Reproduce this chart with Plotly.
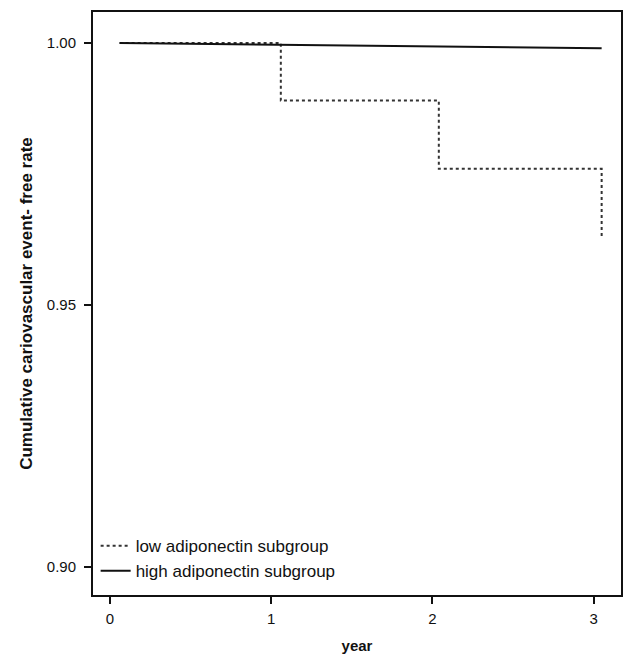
import plotly.graph_objects as go

# Data
years_low = [0.06, 1.06, 1.06, 2.04, 2.04, 3.05, 3.05]
rate_low = [1.000, 1.000, 0.989, 0.989, 0.976, 0.976, 0.963]
years_high = [0.06, 3.05]
rate_high = [1.000, 0.999]
x_ticks = [0, 1, 2, 3]
y_ticks = [0.90, 0.95, 1.00]
y_tick_labels = ["0.90", "0.95", "1.00"]

fig = go.Figure()
fig.add_trace(go.Scatter(x=years_low, y=rate_low, mode="lines",
                         name="low adiponectin subgroup",
                         line=dict(color="#333333", width=2, dash="dot")))
fig.add_trace(go.Scatter(x=years_high, y=rate_high, mode="lines",
                         name="high adiponectin subgroup",
                         line=dict(color="#111111", width=2)))

font_family = "Liberation Sans, Arial, sans-serif"
fig.update_layout(
    width=627, height=656,
    margin=dict(l=93, r=4, t=12, b=58),
    paper_bgcolor="white", plot_bgcolor="white",
    font=dict(family=font_family, size=15, color="#111111"),
    showlegend=True,
    legend=dict(x=0.005, y=0.01, xanchor="left", yanchor="bottom",
                bgcolor="rgba(0,0,0,0)", font=dict(size=17),
                tracegroupgap=0, itemwidth=30),
    xaxis=dict(range=[-0.105, 3.17], tickvals=x_ticks, ticks="outside",
               ticklen=7, tickwidth=1.5, tickcolor="#111111",
               showline=True, linecolor="#111111", linewidth=2, mirror=True,
               showgrid=False, zeroline=False, ticklabelstandoff=2,
               title=dict(text="<b>year</b>", font=dict(size=15), standoff=14)),
    yaxis=dict(range=[0.8947, 1.0059], tickvals=y_ticks, ticktext=y_tick_labels,
               ticks="outside", ticklen=7, tickwidth=1.5, tickcolor="#111111",
               showline=True, linecolor="#111111", linewidth=2, mirror=True,
               showgrid=False, zeroline=False, ticklabelstandoff=5,
               title=dict(text="<b>Cumulative cariovascular event- free rate</b>",
                          font=dict(size=17), standoff=10)),
)

fig.write_html("out.html")
